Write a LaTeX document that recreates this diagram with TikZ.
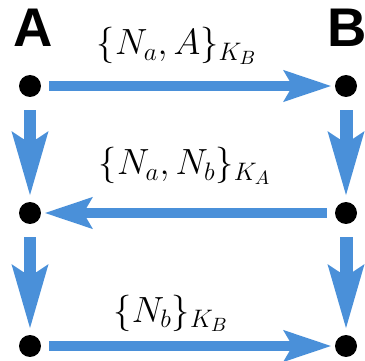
\documentclass[tikz,border=0pt]{standalone}
\usepackage{fontspec}
\newfontfamily\lblfont{Liberation Sans}
\usetikzlibrary{arrows.meta}
\definecolor{cBlue}{HTML}{4A90D9}
\begin{document}
\begin{tikzpicture}[x=0.02cm,y=-0.02cm,
  dot/.style={circle,fill=black,inner sep=0pt,minimum size=0.44cm},
  party/.style={font=\lblfont\fontsize{31}{36}\selectfont\bfseries,inner sep=0pt},
  msg/.style={font=\fontsize{22}{26}\selectfont,anchor=base,inner sep=0pt},
  harr/.style={cBlue,line width=0.2cm,
               -{Stealth[length=0.94cm,width=0.6cm,inset=0.16cm]},
               shorten <=0.16cm,shorten >=0.06cm},
  varr/.style={cBlue,line width=0.26cm,
               -{Stealth[length=1.26cm,width=0.68cm,inset=0.2cm]},
               shorten <=0.26cm,shorten >=0.1cm}]
\useasboundingbox (0,0) rectangle (365,361);
\node[party] (lA) at (33,28) {A};
\node[party] (lB) at (347,28) {B};
\node[dot] (a1) at (30,86) {};
\node[dot] (b1) at (346,86) {};
\node[dot] (a2) at (30,213) {};
\node[dot] (b2) at (346,213) {};
\node[dot] (a3) at (30,346) {};
\node[dot] (b3) at (346,346) {};
\draw[harr] (a1) -- (b1);
\draw[harr] (b2) -- (a2);
\draw[harr] (a3) -- (b3);
\draw[varr] (a1) -- (a2);
\draw[varr] (a2) -- (a3);
\draw[varr] (b1) -- (b2);
\draw[varr] (b2) -- (b3);
\node[msg] (m1) at (177,55) {$\{N_a, A\}_{K_B}$};
\node[msg] (m2) at (185,175) {$\{N_a, N_b\}_{K_A}$};
\node[msg] (m3) at (171,322) {$\{N_b\}_{K_B}$};
\end{tikzpicture}
\end{document}
